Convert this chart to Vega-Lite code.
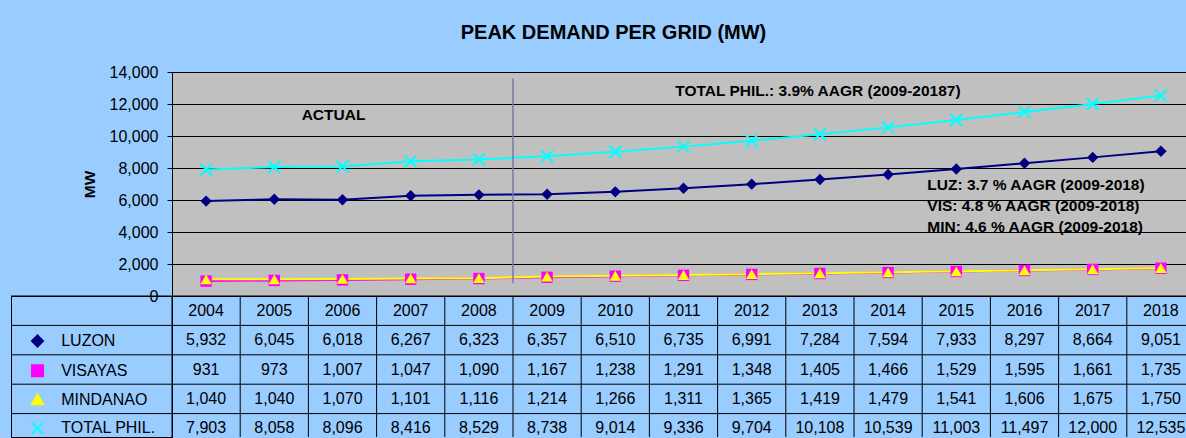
{
  "$schema": "https://vega.github.io/schema/vega-lite/v6.json",
  "background": "#99CCFF",
  "padding": {"left": 10, "top": 12, "right": 0, "bottom": 0},
  "autosize": {"type": "pad"},
  "config": {
    "font": "Liberation Sans",
    "view": {"fill": null, "stroke": null},
    "concat": {"spacing": 0}
  },
  "datasets": {
    "demand": [
      {"year": "2004", "series": "LUZON", "value": 5932},
      {"year": "2005", "series": "LUZON", "value": 6045},
      {"year": "2006", "series": "LUZON", "value": 6018},
      {"year": "2007", "series": "LUZON", "value": 6267},
      {"year": "2008", "series": "LUZON", "value": 6323},
      {"year": "2009", "series": "LUZON", "value": 6357},
      {"year": "2010", "series": "LUZON", "value": 6510},
      {"year": "2011", "series": "LUZON", "value": 6735},
      {"year": "2012", "series": "LUZON", "value": 6991},
      {"year": "2013", "series": "LUZON", "value": 7284},
      {"year": "2014", "series": "LUZON", "value": 7594},
      {"year": "2015", "series": "LUZON", "value": 7933},
      {"year": "2016", "series": "LUZON", "value": 8297},
      {"year": "2017", "series": "LUZON", "value": 8664},
      {"year": "2018", "series": "LUZON", "value": 9051},
      {"year": "2004", "series": "VISAYAS", "value": 931},
      {"year": "2005", "series": "VISAYAS", "value": 973},
      {"year": "2006", "series": "VISAYAS", "value": 1007},
      {"year": "2007", "series": "VISAYAS", "value": 1047},
      {"year": "2008", "series": "VISAYAS", "value": 1090},
      {"year": "2009", "series": "VISAYAS", "value": 1167},
      {"year": "2010", "series": "VISAYAS", "value": 1238},
      {"year": "2011", "series": "VISAYAS", "value": 1291},
      {"year": "2012", "series": "VISAYAS", "value": 1348},
      {"year": "2013", "series": "VISAYAS", "value": 1405},
      {"year": "2014", "series": "VISAYAS", "value": 1466},
      {"year": "2015", "series": "VISAYAS", "value": 1529},
      {"year": "2016", "series": "VISAYAS", "value": 1595},
      {"year": "2017", "series": "VISAYAS", "value": 1661},
      {"year": "2018", "series": "VISAYAS", "value": 1735},
      {"year": "2004", "series": "MINDANAO", "value": 1040},
      {"year": "2005", "series": "MINDANAO", "value": 1040},
      {"year": "2006", "series": "MINDANAO", "value": 1070},
      {"year": "2007", "series": "MINDANAO", "value": 1101},
      {"year": "2008", "series": "MINDANAO", "value": 1116},
      {"year": "2009", "series": "MINDANAO", "value": 1214},
      {"year": "2010", "series": "MINDANAO", "value": 1266},
      {"year": "2011", "series": "MINDANAO", "value": 1311},
      {"year": "2012", "series": "MINDANAO", "value": 1365},
      {"year": "2013", "series": "MINDANAO", "value": 1419},
      {"year": "2014", "series": "MINDANAO", "value": 1479},
      {"year": "2015", "series": "MINDANAO", "value": 1541},
      {"year": "2016", "series": "MINDANAO", "value": 1606},
      {"year": "2017", "series": "MINDANAO", "value": 1675},
      {"year": "2018", "series": "MINDANAO", "value": 1750},
      {"year": "2004", "series": "TOTAL PHIL.", "value": 7903},
      {"year": "2005", "series": "TOTAL PHIL.", "value": 8058},
      {"year": "2006", "series": "TOTAL PHIL.", "value": 8096},
      {"year": "2007", "series": "TOTAL PHIL.", "value": 8416},
      {"year": "2008", "series": "TOTAL PHIL.", "value": 8529},
      {"year": "2009", "series": "TOTAL PHIL.", "value": 8738},
      {"year": "2010", "series": "TOTAL PHIL.", "value": 9014},
      {"year": "2011", "series": "TOTAL PHIL.", "value": 9336},
      {"year": "2012", "series": "TOTAL PHIL.", "value": 9704},
      {"year": "2013", "series": "TOTAL PHIL.", "value": 10108},
      {"year": "2014", "series": "TOTAL PHIL.", "value": 10539},
      {"year": "2015", "series": "TOTAL PHIL.", "value": 11003},
      {"year": "2016", "series": "TOTAL PHIL.", "value": 11497},
      {"year": "2017", "series": "TOTAL PHIL.", "value": 12000},
      {"year": "2018", "series": "TOTAL PHIL.", "value": 12535}
    ],
    "rows": [
      {"row": "hdr"}, {"row": "LUZON"}, {"row": "VISAYAS"}, {"row": "MINDANAO"}, {"row": "TOTAL PHIL."}
    ],
    "one": [{}]
  },
  "spacing": 0,
  "bounds": "flush",
  "vconcat": [
    {
      "width": 1175,
      "height": 60,
      "data": {"values": [{"t": "PEAK DEMAND PER GRID (MW)"}]},
      "mark": {"type": "text", "fontSize": 20, "fontWeight": "bold", "color": "black", "dx": 15, "dy": -9},
      "encoding": {"text": {"field": "t"}}
    },
    {
      "columns": 2,
      "spacing": 0,
      "bounds": "flush",
      "align": "each",
      "concat": [
        {
          "width": 161,
          "height": 224,
          "data": {"name": "one"},
          "mark": {"type": "text", "text": ""},
          "encoding": {}
        },
        {
          "width": 1014,
          "height": 224,
          "view": {"fill": "#C0C0C0", "stroke": null},
          "data": {"name": "demand"},
          "layer": [
            {
              "mark": {"type": "line", "strokeWidth": 2},
              "encoding": {
                "x": {"field": "year", "type": "ordinal", "bandPosition": 0.5,
                      "scale": {"type": "band", "paddingInner": 0, "paddingOuter": 0, "range": [0, 1023]},
                      "axis": null},
                "y": {"field": "value", "type": "quantitative",
                      "scale": {"domain": [0, 14000], "nice": false},
                      "axis": {
                        "values": [0, 2000, 4000, 6000, 8000, 10000, 12000, 14000],
                        "tickCount": 10,
                        "format": ",.0f",
                        "labelOverlap": false,
                        "title": "MW",
                        "titleFont": "Liberation Sans", "titleFontSize": 15.5, "titleFontWeight": "bold",
                        "titleColor": "black", "titlePadding": 12,
                        "labelFont": "Liberation Sans", "labelFontSize": 16, "labelColor": "black",
                        "labelPadding": 9, "tickSize": 5, "tickColor": "black",
                        "domainColor": "black", "grid": true, "gridColor": "black", "gridOpacity": 1,
                        "gridWidth": 1
                      }},
                "color": {"field": "series", "type": "nominal",
                          "scale": {"domain": ["LUZON", "VISAYAS", "MINDANAO", "TOTAL PHIL."],
                                    "range": ["#000080", "#FF00FF", "#FFFF00", "#00FFFF"]},
                          "legend": {
                            "orient": "none", "legendX": 18.5, "legendY": 321, "zindex": 5,
                            "title": null, "padding": 0, "direction": "vertical",
                            "rowPadding": 9.8, "labelFont": "Liberation Sans", "labelFontSize": 16,
                            "labelColor": "black", "labelOffset": 15.7, "labelLimit": 0,
                            "symbolSize": 121, "symbolStrokeWidth": 2, "symbolOpacity": 1
                          }}
              }
            },
            {
              "transform": [{"filter": "datum.series !== 'TOTAL PHIL.'"}],
              "mark": {"type": "point", "filled": true, "opacity": 1, "size": 130},
              "encoding": {
                "x": {"field": "year", "type": "ordinal", "bandPosition": 0.5},
                "y": {"field": "value", "type": "quantitative"},
                "color": {"field": "series", "type": "nominal"},
                "shape": {"field": "series", "type": "nominal",
                          "scale": {"domain": ["LUZON", "VISAYAS", "MINDANAO", "TOTAL PHIL."],
                                    "range": ["diamond", "square", "triangle-up", "M-1,-1L1,1M-1,1L1,-1"]},
                          "legend": null}
              }
            },
            {
              "transform": [{"filter": "datum.series === 'TOTAL PHIL.'"}],
              "mark": {"type": "point", "filled": false, "opacity": 1, "size": 144, "strokeWidth": 2},
              "encoding": {
                "x": {"field": "year", "type": "ordinal", "bandPosition": 0.5},
                "y": {"field": "value", "type": "quantitative"},
                "color": {"field": "series", "type": "nominal"},
                "shape": {"field": "series", "type": "nominal", "legend": null}
              }
            },
            {
              "data": {"name": "one"},
              "mark": {"type": "rule", "color": "#7878A8", "strokeWidth": 1.5},
              "encoding": {
                "x": {"datum": "2009", "type": "ordinal", "bandPosition": 0},
                "y": {"datum": 13600, "type": "quantitative"},
                "y2": {"datum": 800}
              }
            },
            {
              "data": {"name": "one"},
              "mark": {"type": "text", "fontSize": 15.5, "fontWeight": "bold", "color": "black", "dx": -9},
              "encoding": {
                "x": {"datum": "2006", "type": "ordinal", "bandPosition": 0.5},
                "y": {"datum": 11312, "type": "quantitative"},
                "text": {"value": "ACTUAL"}
              }
            },
            {
              "data": {"name": "one"},
              "mark": {"type": "text", "fontSize": 15.5, "fontWeight": "bold", "color": "black", "dx": -2},
              "encoding": {
                "x": {"datum": "2013", "type": "ordinal", "bandPosition": 0.5},
                "y": {"datum": 12830, "type": "quantitative"},
                "text": {"value": "TOTAL PHIL.: 3.9% AAGR (2009-20187)"}
              }
            },
            {
              "data": {"name": "one"},
              "mark": {"type": "text", "fontSize": 15.5, "fontWeight": "bold", "color": "black", "align": "left", "dx": -29},
              "encoding": {
                "x": {"datum": "2015", "type": "ordinal", "bandPosition": 0.5},
                "y": {"datum": 6937, "type": "quantitative"},
                "text": {"value": "LUZ: 3.7 % AAGR (2009-2018)"}
              }
            },
            {
              "data": {"name": "one"},
              "mark": {"type": "text", "fontSize": 15.5, "fontWeight": "bold", "color": "black", "align": "left", "dx": -29},
              "encoding": {
                "x": {"datum": "2015", "type": "ordinal", "bandPosition": 0.5},
                "y": {"datum": 5625, "type": "quantitative"},
                "text": {"value": "VIS: 4.8 % AAGR (2009-2018)"}
              }
            },
            {
              "data": {"name": "one"},
              "mark": {"type": "text", "fontSize": 15.5, "fontWeight": "bold", "color": "black", "align": "left", "dx": -29},
              "encoding": {
                "x": {"datum": "2015", "type": "ordinal", "bandPosition": 0.5},
                "y": {"datum": 4331, "type": "quantitative"},
                "text": {"value": "MIN: 4.6 % AAGR (2009-2018)"}
              }
            }
          ]
        },
        {
          "width": 161,
          "height": 141,
          "view": {"fill": null, "stroke": "black"},
          "data": {"name": "rows"},
          "mark": {"type": "rule", "color": "black", "strokeWidth": 1},
          "encoding": {
            "y": {"field": "row", "type": "nominal", "bandPosition": 0,
                  "scale": {"type": "band", "domain": ["hdr", "LUZON", "VISAYAS", "MINDANAO", "TOTAL PHIL."],
                            "range": [0, 147], "paddingInner": 0, "paddingOuter": 0},
                  "axis": null}
          }
        },
        {
          "width": 1014,
          "height": 141,
          "view": {"fill": null, "stroke": null},
          "data": {"name": "demand"},
          "layer": [
            {
              "data": {"name": "rows"},
              "mark": {"type": "rule", "color": "black", "strokeWidth": 1},
              "encoding": {
                "y": {"field": "row", "type": "nominal", "bandPosition": 0,
                      "scale": {"type": "band", "domain": ["hdr", "LUZON", "VISAYAS", "MINDANAO", "TOTAL PHIL."],
                                "range": [0, 147], "paddingInner": 0, "paddingOuter": 0},
                      "axis": null}
              }
            },
            {
              "transform": [{"filter": "datum.series === 'LUZON'"}],
              "mark": {"type": "rule", "color": "black", "strokeWidth": 1},
              "encoding": {
                "x": {"field": "year", "type": "ordinal", "bandPosition": 0,
                      "scale": {"type": "band", "paddingInner": 0, "paddingOuter": 0, "range": [0, 1023]},
                      "axis": null}
              }
            },
            {
              "transform": [{"filter": "datum.series === 'LUZON'"}],
              "mark": {"type": "text", "fontSize": 16, "color": "black", "baseline": "middle"},
              "encoding": {
                "x": {"field": "year", "type": "ordinal", "bandPosition": 0.5},
                "y": {"datum": "hdr", "type": "nominal", "bandPosition": 0.5},
                "text": {"field": "year"}
              }
            },
            {
              "mark": {"type": "text", "fontSize": 16, "color": "black", "baseline": "middle"},
              "encoding": {
                "x": {"field": "year", "type": "ordinal", "bandPosition": 0.5},
                "y": {"field": "series", "type": "nominal", "bandPosition": 0.5},
                "text": {"field": "value", "type": "quantitative", "format": ","}
              }
            }
          ]
        }
      ]
    }
  ]
}
